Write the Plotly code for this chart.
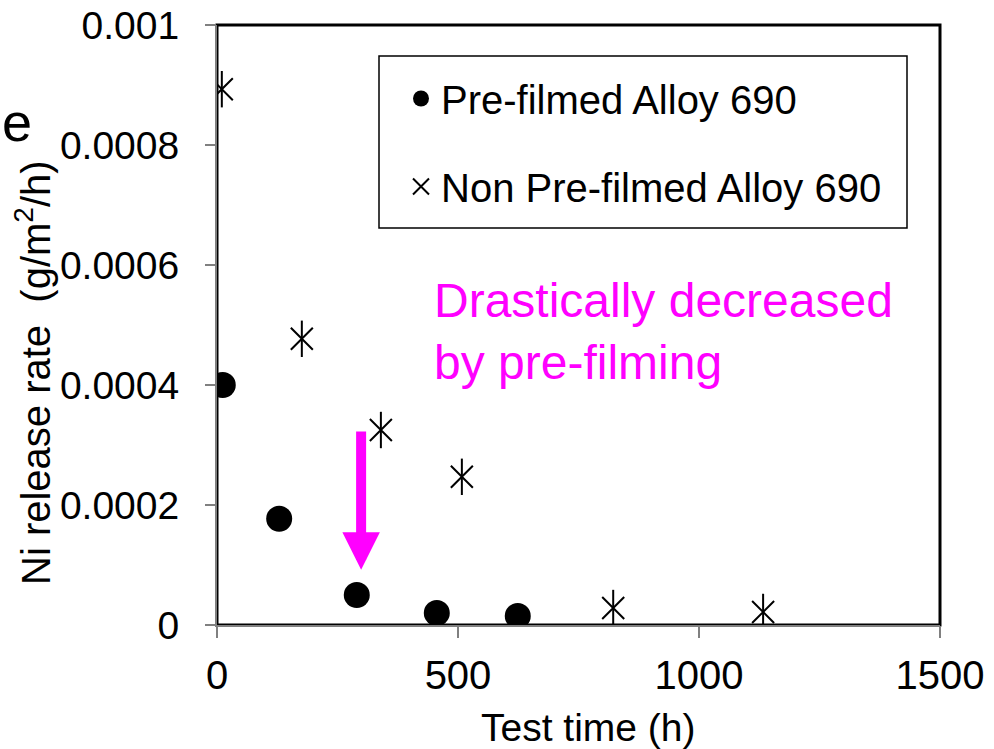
import plotly.graph_objects as go

# ---- data ----
pre_x = [12, 129, 290, 456, 624]
pre_y = [0.000400, 0.000177, 0.000050, 0.000020, 0.000015]
non_x = [10, 176, 340, 508, 822, 1133]
non_y = [0.000893, 0.000477, 0.000325, 0.000247, 0.0000283, 0.0000217]
x_ticks = [0, 500, 1000, 1500]
y_ticks = [0, 0.0002, 0.0004, 0.0006, 0.0008, 0.001]
y_tick_labels = ["0", "0.0002", "0.0004", "0.0006", "0.0008", "0.001"]
arrow_tail = (299, 0.000325)
arrow_tip = (299, 0.000092)

FONT = "Liberation Sans, Arial, sans-serif"

L, R, T, B = 217, 54, 25, 124
PW, PH = 994 - L - R, 749 - T - B


def px(x):
    return (x - L) / PW


def py(y):
    return (749 - B - y) / PH


fig = go.Figure()
fig.add_trace(go.Scatter(
    x=pre_x, y=pre_y, mode="markers", name="Pre-filmed Alloy 690",
    legendgroup="a",
    marker=dict(symbol="circle", size=26, color="black"),
))
fig.add_trace(go.Scatter(
    x=non_x, y=non_y, mode="markers", name="Non Pre-filmed Alloy 690",
    legendgroup="b",
    marker=dict(symbol="x-thin-open", size=22, color="black",
                line=dict(color="black", width=2)),
))
fig.add_trace(go.Scatter(
    x=non_x, y=non_y, mode="markers", name="Non Pre-filmed Alloy 690",
    legendgroup="b", showlegend=False,
    marker=dict(symbol="line-ns-open", size=26, color="black",
                line=dict(color="black", width=2)),
))

# plot frame
fig.add_shape(type="rect", xref="x domain", yref="y domain", x0=0, x1=1, y0=0, y1=1,
              line=dict(color="black", width=3), layer="below")
# legend box
fig.add_shape(type="rect", xref="paper", yref="paper", x0=px(379), x1=px(907),
              y0=py(228), y1=py(56), line=dict(color="black", width=1.5),
              fillcolor="white", layer="below")

# arrow
fig.add_annotation(x=arrow_tip[0], y=arrow_tip[1], ax=arrow_tail[0], ay=arrow_tail[1],
                   xref="x", yref="y", axref="x", ayref="y", text="",
                   showarrow=True, arrowhead=2, arrowsize=0.75, arrowwidth=10,
                   arrowcolor="#FF00FF")
# text annotation
fig.add_annotation(x=446, y=0.000589, xref="x", yref="y", xanchor="left", yanchor="top",
                   text="Drastically decreased<br>by pre-filming", align="left",
                   showarrow=False, font=dict(family=FONT, size=48, color="#FF00FF"))
# y title
fig.add_annotation(x=px(33), y=py(373), xref="paper", yref="paper",
                   text="Ni release rate\u00a0\u00a0(g/m<sup>2</sup>/h)", textangle=-90,
                   showarrow=False, xanchor="center", yanchor="middle",
                   font=dict(family=FONT, size=40, color="black"))
# x title
fig.add_annotation(x=px(588), y=py(727), xref="paper", yref="paper",
                   text="Test time (h)", showarrow=False, xanchor="center", yanchor="middle",
                   font=dict(family=FONT, size=39, color="black"))
# letter at top-left
fig.add_annotation(x=px(0), y=py(122), xref="paper", yref="paper",
                   text="e", showarrow=False, xanchor="left", yanchor="middle",
                   font=dict(family=FONT, size=54, color="black"))

fig.update_layout(
    width=994, height=749, autosize=False,
    margin=dict(l=L, r=R, t=T, b=B, autoexpand=False),
    paper_bgcolor="white", plot_bgcolor="white",
    font=dict(family=FONT, color="black"),
    showlegend=True,
    legend=dict(x=px(401), y=py(66), xanchor="left", yanchor="top",
                borderwidth=0, bgcolor="rgba(0,0,0,0)",
                font=dict(family=FONT, size=40, color="black"),
                tracegroupgap=33, traceorder="grouped"),
    xaxis=dict(range=[0, 1500], tickvals=x_ticks, showgrid=False, zeroline=False,
               showline=True, linecolor="#808080", linewidth=2,
               ticks="outside", ticklen=11, tickwidth=2, tickcolor="#808080",
               tickfont=dict(family=FONT, size=40, color="black"),
               ticklabelstandoff=3,
               layer="below traces", automargin=False),
    yaxis=dict(range=[0, 0.001], tickvals=y_ticks, ticktext=y_tick_labels,
               showgrid=False, zeroline=False,
               showline=True, linecolor="#808080", linewidth=2,
               ticks="outside", ticklen=10, tickwidth=2, tickcolor="#808080",
               tickfont=dict(family=FONT, size=39, color="black"),
               ticklabelstandoff=18,
               layer="below traces", automargin=False),
)

fig.write_html("out.html")
